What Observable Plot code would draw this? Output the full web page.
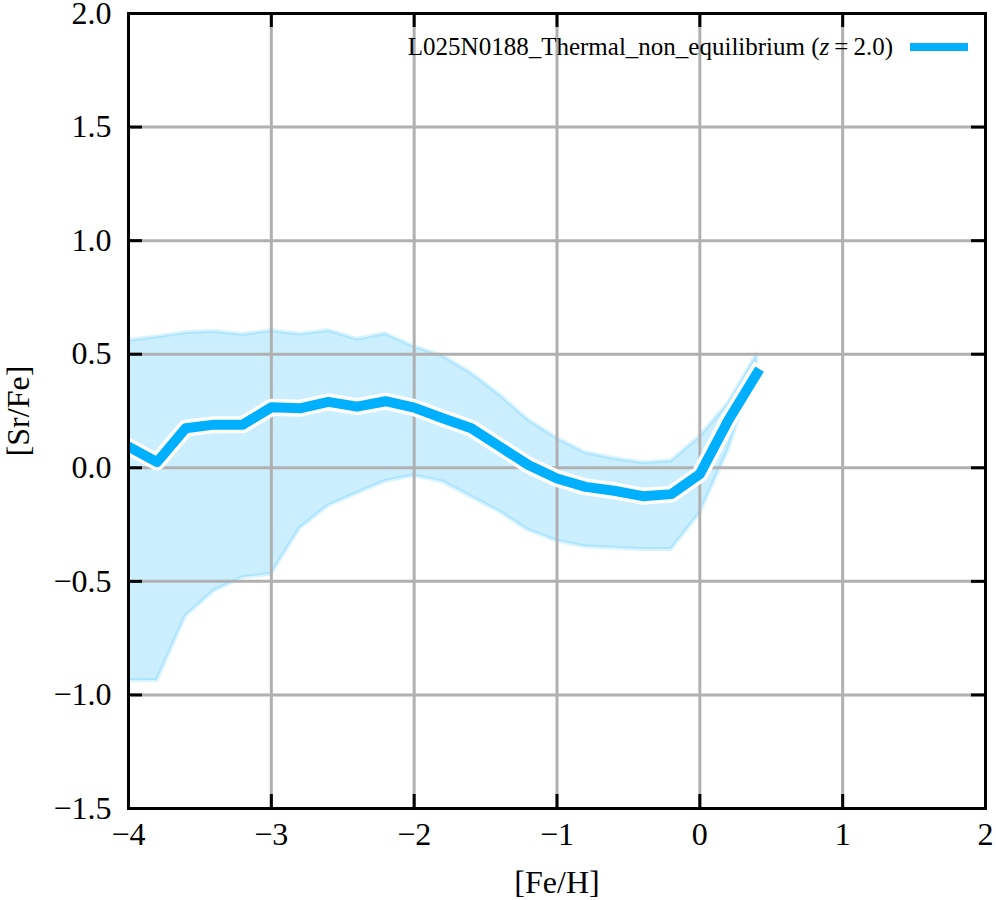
<!DOCTYPE html>
<html>
<head>
<meta charset="utf-8">
<script src="https://cdn.jsdelivr.net/npm/d3@7"></script>
<script src="https://cdn.jsdelivr.net/npm/@observablehq/plot@0.6"></script>
<style>
  html, body { margin: 0; padding: 0; background: white; }
  #chart { width: 996px; height: 900px; }
  #chart svg, #chart svg g, #chart svg text { font-family: "Liberation Serif", "Times New Roman", serif !important; font-variant: normal !important; }
</style>
</head>
<body>
<div id="chart"></div>
<script>
// ---- data ----
const feH = [-4.0, -3.8, -3.6, -3.4, -3.2, -3.0, -2.8, -2.6, -2.4, -2.2, -2.0, -1.8, -1.6, -1.4, -1.2, -1.0, -0.8, -0.6, -0.4, -0.2, 0.0, 0.2, 0.4];
const srFeMedian = [0.093, 0.025, 0.174, 0.19, 0.19, 0.266, 0.262, 0.29, 0.269, 0.293, 0.265, 0.218, 0.174, 0.093, 0.012, -0.047, -0.084, -0.101, -0.125, -0.116, -0.028, 0.21, 0.416];
const srFeUpper = [0.56, 0.576, 0.595, 0.6, 0.587, 0.603, 0.588, 0.604, 0.566, 0.59, 0.533, 0.492, 0.416, 0.32, 0.21, 0.13, 0.066, 0.041, 0.022, 0.03, 0.137, 0.285, 0.5];
const srFeLower = [-0.937, -0.937, -0.654, -0.542, -0.483, -0.469, -0.267, -0.167, -0.113, -0.059, -0.035, -0.062, -0.128, -0.194, -0.275, -0.322, -0.348, -0.353, -0.36, -0.36, -0.2, 0.078, 0.46];
const xTicks = [-4, -3, -2, -1, 0, 1, 2];
const yTicks = [-1.5, -1.0, -0.5, 0.0, 0.5, 1.0, 1.5, 2.0];
const xLabel = "[Fe/H]";
const yLabel = "[Sr/Fe]";
const seriesName = "L025N0188_Thermal_non_equilibrium";
const redshift = "2.0";

const rows = feH.map((x, i) => ({x, med: srFeMedian[i], hi: srFeUpper[i], lo: srFeLower[i]}));

// ---- layout ----
const W = 996, H = 900;
const mL = 128, mR = 11, mT = 13, mB = 92;
const frameW = W - mL - mR, frameH = H - mT - mB;
const tickLen = 14;
const blue = "#00b0ff";
const font = "Liberation Serif, Times New Roman, serif";
const minus = s => s.replace("-", "\u2212");
const fmtX = d => minus(String(d));
const fmtY = d => minus(d.toFixed(1));

const chart = Plot.plot({
  width: W, height: H,
  marginLeft: mL, marginRight: mR, marginTop: mT, marginBottom: mB,
  x: {domain: [-4, 2]},
  y: {domain: [-1.5, 2]},
  style: {fontFamily: font, fontSize: "32px", background: "white", color: "black"},
  marks: [
    Plot.areaY(rows, {x: "x", y1: "lo", y2: "hi", fill: blue, fillOpacity: 0.2, stroke: blue, strokeOpacity: 0.15, strokeWidth: 4, clip: true}),
    Plot.gridX(xTicks, {stroke: "#b0b0b0", strokeOpacity: 1, strokeWidth: 3}),
    Plot.gridY(yTicks, {stroke: "#b0b0b0", strokeOpacity: 1, strokeWidth: 3}),
    Plot.line(rows, {x: "x", y: "med", stroke: "white", strokeWidth: 17, strokeLinecap: "square", clip: true}),
    Plot.line(rows, {x: "x", y: "med", stroke: blue, strokeWidth: 10, strokeLinecap: "square", clip: true}),
    Plot.tickX(xTicks, {x: d => d, insetBottom: frameH - tickLen, stroke: "black", strokeWidth: 3}),
    Plot.tickX(xTicks, {x: d => d, insetTop: frameH - tickLen, stroke: "black", strokeWidth: 3}),
    Plot.tickY(yTicks, {y: d => d, insetRight: frameW - tickLen, stroke: "black", strokeWidth: 3}),
    Plot.tickY(yTicks, {y: d => d, insetLeft: frameW - tickLen, stroke: "black", strokeWidth: 3}),
    Plot.frame({stroke: "black", strokeWidth: 3}),
    Plot.axisX(xTicks, {tickSize: 0, tickPadding: 14, tickFormat: fmtX, label: null, fontSize: 32, fontFamily: font}),
    Plot.axisY(yTicks, {tickSize: 0, tickPadding: 17, tickFormat: fmtY, label: null, fontSize: 32, fontFamily: font}),
    Plot.text([xLabel], {frameAnchor: "bottom", dy: 74, lineAnchor: "middle", text: d => d, fontSize: 32, fontFamily: font}),
    Plot.text([yLabel], {frameAnchor: "left", dx: -(mL - 18), rotate: -90, lineAnchor: "middle", textAnchor: "middle", text: d => d, fontSize: 32, fontFamily: font})
  ]
});

document.getElementById("chart").appendChild(chart);

const svg = d3.select(chart);
svg.selectAll("text").attr("font-family", font).attr("font-variant", null);

// ---- legend (inside plot, top right) ----
const lg = svg.append("g");
const t = lg.append("text")
  .attr("x", 893).attr("y", 55)
  .attr("text-anchor", "end")
  .attr("font-family", font)
  .attr("font-size", 25)
  .attr("fill", "black");
t.append("tspan").text(seriesName + " (");
t.append("tspan").attr("font-style", "italic").text("z");
t.append("tspan").text("\u2009=\u2009" + redshift + ")");
lg.append("line")
  .attr("x1", 910).attr("x2", 968).attr("y1", 47).attr("y2", 47)
  .attr("stroke", blue).attr("stroke-width", 8);
</script>
</body>
</html>
